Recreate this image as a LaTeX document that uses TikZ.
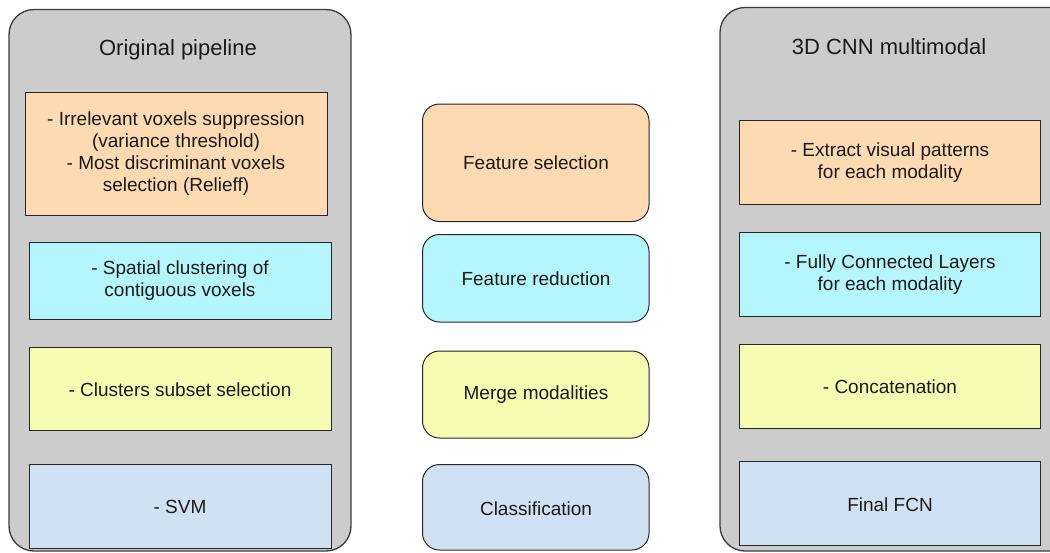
\documentclass[tikz,border=0pt]{standalone}
\usepackage{fontspec}
\setmainfont{Liberation Sans}
\definecolor{contfill}{HTML}{CCCCCC}
\definecolor{contline}{HTML}{3A3A3A}
\definecolor{cOrange}{HTML}{FDDAB1}
\definecolor{cCyan}{HTML}{B5F6FD}
\definecolor{cYellow}{HTML}{F6FDB2}
\definecolor{cBlue}{HTML}{CFE1F2}
\definecolor{txt}{HTML}{1A1A1A}
\tikzset{
  container/.style={draw=contline, fill=contfill, line width=1.3pt, rounded corners=25pt},
  stagebox/.style={draw=black!85, line width=1pt},
  midbox/.style={draw=black!85, line width=1pt, rounded corners=17pt},
  lbl/.style={text=txt, align=center, font=\fontsize{19}{22}\selectfont, inner sep=0pt},
  ttl/.style={text=txt, align=center, font=\fontsize{22}{26}\selectfont, inner sep=0pt}
}
\begin{document}
\begin{tikzpicture}[x=1pt,y=-1pt]
\useasboundingbox (0,0) rectangle (1050,552);
\clip (0,0) rectangle (1050,552);
% left container
\draw[container] (9,9.5) rectangle (351,551);
\node[ttl] (t1) at (178,50) {Original pipeline};
\draw[stagebox, fill=cOrange] (25,92) rectangle (327,215);
\node[lbl] (l1) at (176,153.5) {- Irrelevant voxels suppression\\(variance threshold)\\- Most discriminant voxels\\selection (Relieff)};
\draw[stagebox, fill=cCyan] (29,242) rectangle (331,319);
\node[lbl] (l2) at (180,281) {- Spatial clustering of\\contiguous voxels};
\draw[stagebox, fill=cYellow] (29,347.5) rectangle (331,430.5);
\node[lbl] (l3) at (180,390) {- Clusters subset selection};
\draw[stagebox, fill=cBlue] (29,464.5) rectangle (331,548);
\node[lbl] (l4) at (180,507) {- SVM};
% middle
\draw[midbox, fill=cOrange] (422.5,104) rectangle (649,221.5);
\node[lbl] (m1) at (536,163) {Feature selection};
\draw[midbox, fill=cCyan] (422.5,234.5) rectangle (649,322);
\node[lbl] (m2) at (536,279) {Feature reduction};
\draw[midbox, fill=cYellow] (422.5,351) rectangle (649,438);
\node[lbl] (m3) at (536,395) {Merge modalities};
\draw[midbox, fill=cBlue] (422.5,464.5) rectangle (649,550);
\node[lbl] (m4) at (536,509) {Classification};
% right container
\draw[container] (720,7.5) rectangle (1075,551);
\node[ttl] (t2) at (889,47) {3D CNN multimodal};
\draw[stagebox, fill=cOrange] (739.5,120.5) rectangle (1040.5,204);
\node[lbl] (r1) at (890,163) {- Extract visual patterns\\for each modality};
\draw[stagebox, fill=cCyan] (739.5,232.5) rectangle (1040.5,316);
\node[lbl] (r2) at (890,275) {- Fully Connected Layers\\for each modality};
\draw[stagebox, fill=cYellow] (739.5,344.5) rectangle (1040.5,428);
\node[lbl] (r3) at (890,387) {- Concatenation};
\draw[stagebox, fill=cBlue] (739.5,461.5) rectangle (1040.5,545);
\node[lbl] (r4) at (890,505) {Final FCN};
\end{tikzpicture}
\end{document}
